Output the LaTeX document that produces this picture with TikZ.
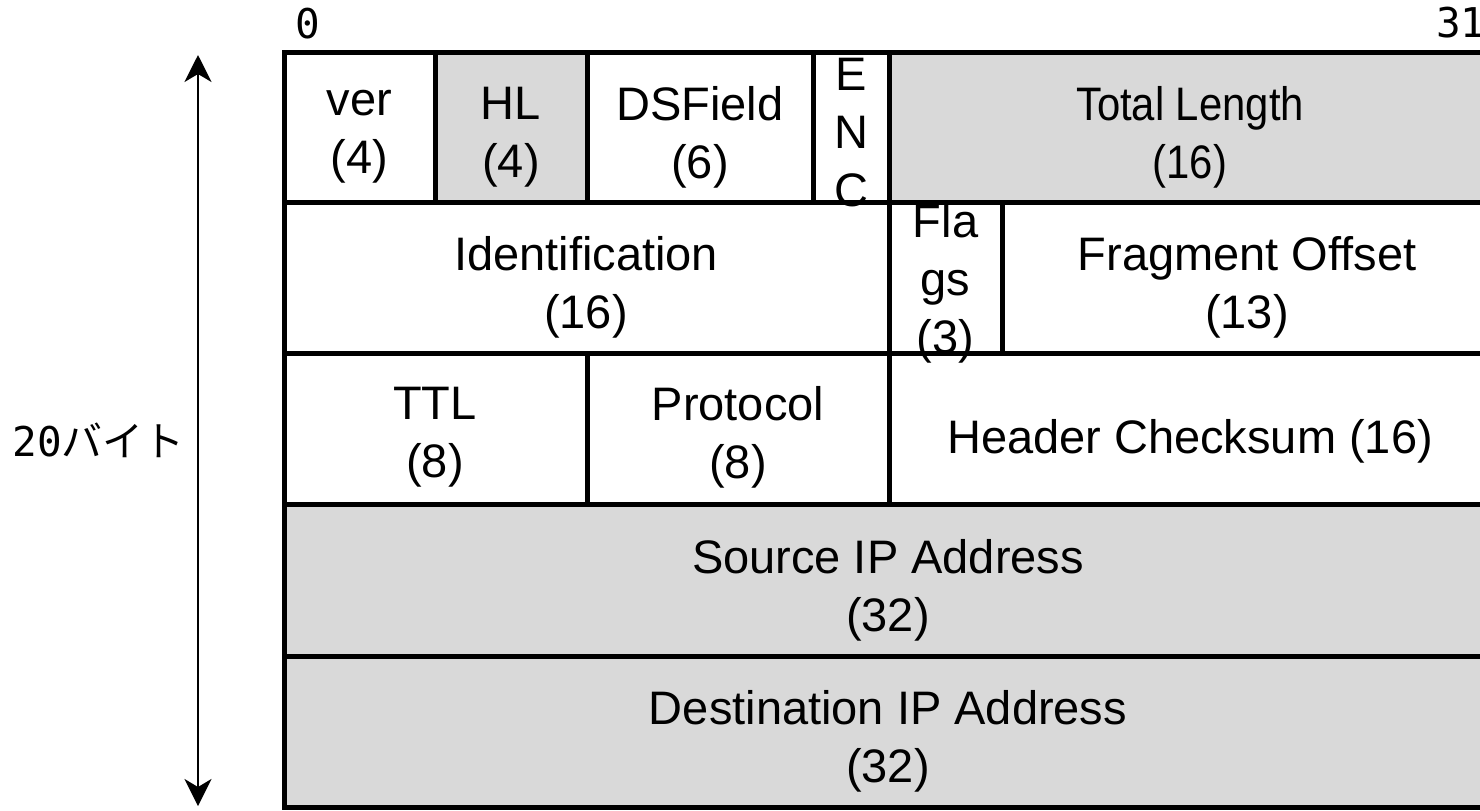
\documentclass[tikz,border=0pt]{standalone}
\usepackage{fontspec}
\usepackage{graphicx}
\setmainfont{Liberation Sans}
\newfontfamily\bitfont{DejaVu Sans Mono}
\newfontfamily\jpfont{Noto Sans CJK JP}
\usetikzlibrary{arrows.meta}
\definecolor{hdrgray}{RGB}{217,217,217}
\newcommand{\fieldsize}{\fontsize{23.5}{29}\selectfont}
\newcommand{\narrow}[1]{\scalebox{0.89}[1]{#1}}

\tikzset{
  cellbox/.style={draw=black,line width=2.5pt},
  graycell/.style={cellbox,fill=hdrgray},
  whitecell/.style={cellbox,fill=white},
  field/.style={align=center,font=\fieldsize,inner sep=0pt},
  bitno/.style={font=\bitfont\fontsize{20.5}{24}\selectfont,inner sep=0pt},
  sizearrow/.style={line width=1.2pt,
    {Stealth[length=13.5pt,width=13.5pt,inset=4pt]}-{Stealth[length=13.5pt,width=13.5pt,inset=4pt]}}
}

\begin{document}
\begin{tikzpicture}[x=0.5pt,y=-0.5pt]
\useasboundingbox (0,0) rectangle (1480,810);

% row 1
\draw[whitecell](284,52) rectangle (435,202);
\draw[graycell](435,52) rectangle (587,202);
\draw[whitecell](587,52) rectangle (813,202);
\draw[whitecell](813,52) rectangle (889,202);
\draw[graycell](889,52) rectangle (1492,202);

% row 2
\draw[whitecell](284,202) rectangle (889,353);
\draw[whitecell](889,202) rectangle (1002,353);
\draw[whitecell](1002,202) rectangle (1492,353);

% row 3
\draw[whitecell](284,353) rectangle (587,504);
\draw[whitecell](587,353) rectangle (889,504);
\draw[whitecell](889,353) rectangle (1492,504);

% addresses
\draw[graycell](284,504) rectangle (1492,656);
\draw[graycell](284,656) rectangle (1492,807);

\node[field] (ver) at (359.5,137) {ver\\(4)};
\node[field] (hl) at (511,137) {HL\\(4)};
\node[field] (dsfield) at (700,137) {DSField\\(6)};
\node[field] (enc) at (851,133) {E\\N\\C};
\node[field] (totlen) at (1190,137) {\narrow{Total Length}\\\narrow{(16)}};

\node[field] (ident) at (586,287.5) {Identification\\(16)};
\node[field] (flags) at (945.5,283) {Fla\\gs\\(3)};
\node[field] (fragoff) at (1247,287.5) {Fragment Offset\\(13)};

\node[field] (ttl) at (435,437) {TTL\\(8)};
\node[field] (proto) at (738,437) {Protocol\\(8)};
\node[field] (chksum) at (1190,441) {Header Checksum (16)};

\node[field] (srcaddr) at (888,590) {Source IP Address\\(32)};
\node[field] (dstaddr) at (888,741) {Destination IP Address\\(32)};

% bit numbers
\node[bitno,anchor=base] (bit0) at (308,38) {0};
\node[bitno,anchor=base east] (bit31) at (1486,37) {31};

% header length
\coordinate (lentop) at (198,55);
\coordinate (lenbot) at (198,806);
\draw[sizearrow] (lentop) -- (lenbot);
\node[bitno,anchor=west] (hdrlen) at (12,440) {20\jpfont バイト};

\end{tikzpicture}
\end{document}
